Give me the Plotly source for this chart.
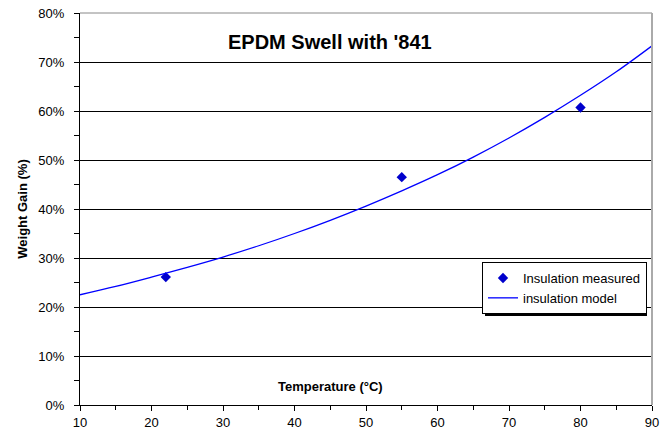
import plotly.graph_objects as go

# Measured data
meas_temp = [22, 55, 80]
meas_gain = [0.261, 0.465, 0.607]

# Model curve
model_temp = [10, 15, 20, 25, 30, 35, 40, 45, 50, 55, 60, 65, 70, 75, 80, 85, 90]
model_gain = [0.225, 0.242, 0.261, 0.281, 0.302, 0.325, 0.350, 0.377, 0.406,
              0.437, 0.470, 0.506, 0.545, 0.587, 0.632, 0.680, 0.733]

x_ticks = [10, 20, 30, 40, 50, 60, 70, 80, 90]
y_ticks = [0, 0.1, 0.2, 0.3, 0.4, 0.5, 0.6, 0.7, 0.8]
y_labels = ["0%", "10%", "20%", "30%", "40%", "50%", "60%", "70%", "80%"]

FONT = "Liberation Sans, Arial, sans-serif"

fig = go.Figure()
fig.add_trace(go.Scatter(x=meas_temp, y=meas_gain, mode="markers",
                         name="Insulation measured",
                         marker=dict(symbol="diamond", size=8, color="#0000CC")))
fig.add_trace(go.Scatter(x=model_temp, y=model_gain, mode="lines",
                         name="insulation model",
                         line=dict(color="#0000FF", width=1.3, shape="spline")))

W, H = 668, 438
L, R, T, B = 80, 16, 13, 33
PW, PH = W - L - R, H - T - B


def px(x):
    return (x - L) / PW


def py(y):
    return (H - B - y) / PH


fig.update_layout(
    template="none",
    width=W, height=H,
    margin=dict(l=L, r=R, t=T, b=B, pad=0),
    paper_bgcolor="white", plot_bgcolor="white",
    font=dict(family=FONT, size=13, color="black"),
    showlegend=True,
    legend=dict(x=px(482), y=py(262), xanchor="left", yanchor="top",
                bgcolor="white", bordercolor="black", borderwidth=1,
                font=dict(family=FONT, size=13, color="black"),
                tracegroupgap=0, itemwidth=30),
    xaxis=dict(range=[10, 90], tickvals=x_ticks, ticks="outside", ticklen=5,
               tickcolor="black", showline=True, linecolor="black", linewidth=1,
               showgrid=False, zeroline=False, automargin=False,
               minor=dict(tickvals=[15, 25, 35, 45, 55, 65, 75, 85], ticks="outside",
                          ticklen=4, tickcolor="black", showgrid=False),
               tickfont=dict(size=13)),
    yaxis=dict(range=[0, 0.8], tickvals=y_ticks, ticktext=y_labels, ticks="outside",
               ticklen=5, tickcolor="black", showline=True, linecolor="black",
               linewidth=1, showgrid=True, gridcolor="black", gridwidth=1,
               zeroline=False, automargin=False, ticklabelstandoff=7,
               minor=dict(tickvals=[0.05, 0.15, 0.25, 0.35, 0.45, 0.55, 0.65, 0.75],
                          ticks="outside", ticklen=5, tickcolor="black", showgrid=False),
               tickfont=dict(size=13),
               title=dict(text="<b>Weight Gain (%)</b>", font=dict(size=13), standoff=7)),
    annotations=[
        dict(text="<b>EPDM Swell with '841</b>", x=px(330), y=py(42), xref="paper",
             yref="paper", xanchor="center", yanchor="middle", showarrow=False,
             font=dict(size=20, family=FONT)),
        dict(text="<b>Temperature (°C)</b>", x=px(330), y=py(386), xref="paper",
             yref="paper", xanchor="center", yanchor="middle", showarrow=False,
             font=dict(size=13, family=FONT)),
    ],
    shapes=[
        dict(type="line", xref="paper", yref="paper", x0=0, x1=1, y0=1, y1=1,
             line=dict(color="#888888", width=1), layer="above"),
        dict(type="line", xref="paper", yref="paper", x0=1, x1=1, y0=0, y1=1,
             line=dict(color="#AAAAAA", width=2), layer="above"),
        # legend drop shadow
        dict(type="rect", xref="paper", yref="paper", x0=px(485), x1=px(647),
             y0=py(316), y1=py(265), fillcolor="black", line=dict(width=0),
             layer="above"),
    ],
)

fig.write_html("out.html", config={"displayModeBar": False},
               post_script="document.body.style.margin='0';")
